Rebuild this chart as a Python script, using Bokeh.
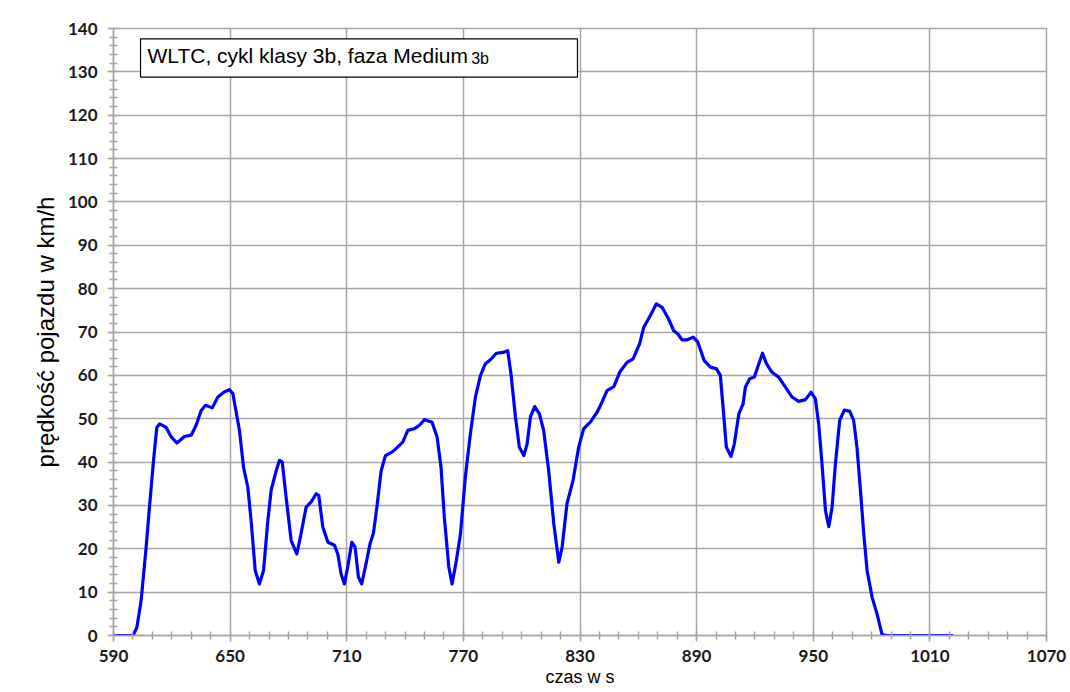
from bokeh.plotting import figure
from bokeh.models import FixedTicker, BoxAnnotation, Label, Range1d
from bokeh.embed import file_html
from bokeh.resources import INLINE

# ---- data ----
time_s = [590, 600, 602, 604.2, 606.8, 608.5, 610.6, 612.3, 613.7, 617.1, 619.7, 622.6,
          626.5, 630, 632.5, 635.1, 637.3, 640.8, 643.7, 647.1, 649.7, 651.4, 654.8, 656.9,
          659.1, 660.8, 662.9, 665.1, 667.2, 669.4, 671.1, 673.7, 675.4, 676.8, 678.8, 681.4,
          684.3, 686.5, 689.1, 691.7, 694.3, 695.6, 697.7, 700.3, 703.7, 705.4, 707.1, 708.8,
          710.5, 712.6, 714.3, 716, 717.7, 719.9, 722, 723.7, 725.5, 727.7, 729.9, 733.3,
          736.3, 738.8, 741.4, 744.8, 747.4, 750, 751.3, 753.9, 756.5, 758.5, 760.2, 762.5,
          764.2, 766.4, 768.5, 771, 773.6, 776.2, 778.8, 781.3, 783.9, 787, 790.4, 792.8,
          794.5, 796.8, 798.8, 801.1, 802.8, 804.5, 806.7, 809.1, 811.3, 813.9, 816.5, 819.1,
          820.8, 823.3, 826.4, 829.3, 831.9, 835.3, 838.8, 841.3, 843.9, 847.4, 850.4, 854.2,
          857.3, 860.7, 862.8, 866.2, 869.3, 872.2, 875.6, 878.2, 880.3, 882.5, 885.1, 888.2,
          890.6, 893.9, 897.1, 900.2, 902.2, 903.6, 905.3, 907.7, 909.4, 911.7, 913.9, 915.1,
          917.3, 919.7, 922, 923.9, 925.9, 928.8, 932.2, 935.7, 939.1, 942.5, 946, 948.9,
          951.1, 952.8, 954.5, 956.3, 958, 959.7, 961.4, 963.6, 966, 968.8, 970.8, 972.5,
          974.3, 976, 977.7, 980.3, 982.8, 985.4, 988, 1022]
speed_kmh = [0, 0, 1.8, 8, 20.4, 29.6, 40.4, 48, 48.8, 48, 45.8, 44.4,
             45.9, 46.2, 48.5, 51.9, 53.1, 52.5, 55, 56.2, 56.7, 55.8, 47.3, 38.8,
             34.2, 26.5, 15, 11.9, 15, 26.5, 33.5, 38, 40.4, 40, 31.9, 21.9,
             18.8, 23.5, 29.6, 30.8, 32.7, 32.3, 25, 21.5, 20.8, 18.8, 14.2, 11.9,
             15.8, 21.5, 20.4, 13.5, 11.9, 16.5, 21.2, 23.5, 29.6, 38, 41.5, 42.3,
             43.5, 44.6, 47.3, 47.7, 48.5, 49.8, 49.6, 49.2, 45.7, 38.8, 27.3, 15.8,
             11.9, 17.3, 23.4, 36.5, 46.5, 55, 60, 62.7, 63.6, 65.1, 65.3, 65.7,
             60.3, 50.4, 43.4, 41.5, 44.2, 50.4, 52.8, 51.1, 47.3, 38, 25.8, 16.9,
             20.4, 30.4, 35.7, 43.4, 47.7, 49.2, 51.5, 53.8, 56.5, 57.4, 60.7, 63,
             63.8, 67.3, 71.1, 73.8, 76.5, 75.7, 73, 70.3, 69.6, 68.2, 68.2, 68.8,
             67.7, 63.4, 61.9, 61.5, 60, 52.7, 43.4, 41.3, 44.2, 51.1, 53.4, 57.3,
             59.2, 59.6, 62.7, 65.1, 62.7, 60.7, 59.6, 57.3, 55, 54, 54.4, 56.1,
             54.6, 48.8, 39.6, 28.8, 25.1, 29.6, 39.6, 49.6, 52, 51.7, 49.6, 43.4,
             33.4, 23.4, 15, 8.8, 5, 0.2, 0, 0]

x_ticks = [590, 650, 710, 770, 830, 890, 950, 1010, 1070]
y_ticks = [0, 10, 20, 30, 40, 50, 60, 70, 80, 90, 100, 110, 120, 130, 140]
x_label = "czas w s"
y_label = "prędkość pojazdu w km/h"
title_main = "WLTC, cykl klasy 3b, faza Medium"
title_sub = "3b"

GRID = "#a6a6a6"

p = figure(width=1070, height=692, output_backend="svg", toolbar_location=None,
           x_range=Range1d(590, 1070), y_range=Range1d(0, 140),
           min_border_left=113, min_border_right=24, min_border_top=28,
           min_border_bottom=57, background_fill_color="white",
           border_fill_color="white")

p.line(time_s, speed_kmh, line_color="#0000ff", line_width=3.2, line_join="round")

p.xaxis.ticker = FixedTicker(ticks=x_ticks, minor_ticks=list(range(590, 1071, 10)))
p.yaxis.ticker = FixedTicker(ticks=y_ticks, minor_ticks=list(range(0, 141, 2)))

for g in (p.xgrid, p.ygrid):
    g.grid_line_color = GRID
    g.grid_line_width = 1.5

p.outline_line_color = GRID
p.outline_line_width = 1.5

for ax in (p.xaxis, p.yaxis):
    ax.axis_line_color = GRID
    ax.axis_line_width = 1.5
    ax.major_tick_line_color = GRID
    ax.major_tick_line_width = 1.5
    ax.minor_tick_line_color = GRID
    ax.minor_tick_line_width = 1.5
    ax.major_tick_in = 0
    ax.major_tick_out = 6
    ax.minor_tick_in = 4
    ax.minor_tick_out = 4
    ax.major_label_text_font = "Lato"
    ax.major_label_text_font_style = "bold"
    ax.major_label_text_font_size = "17px"
    ax.major_label_text_color = "#1a1a1a"
    ax.axis_label_text_font = "Liberation Sans"
    ax.axis_label_text_font_style = "normal"
    ax.axis_label_text_color = "black"

p.xaxis.axis_label = x_label
p.xaxis.axis_label_text_font_size = "18px"
p.xaxis.major_label_standoff = 8
p.xaxis.axis_label_standoff = 2

p.yaxis.axis_label = y_label
p.yaxis.axis_label_text_font_size = "24px"
p.yaxis.major_label_standoff = 10
p.yaxis.axis_label_standoff = 6

box = BoxAnnotation(left=603.9, right=828.7, bottom=128.8, top=137.6,
                    fill_color="white", fill_alpha=1.0, line_color="black",
                    line_width=1.2, line_alpha=1.0)
p.add_layout(box)
p.add_layout(Label(x=607.5, y=133.8, text=title_main, text_font="Liberation Sans",
                   text_font_size="21px", text_baseline="alphabetic", text_color="black"))
p.add_layout(Label(x=774.0, y=133.1, text=title_sub, text_font="Liberation Sans",
                   text_font_size="16px", text_baseline="alphabetic", text_color="black"))

open("out.html", "w").write(file_html(p, INLINE))
